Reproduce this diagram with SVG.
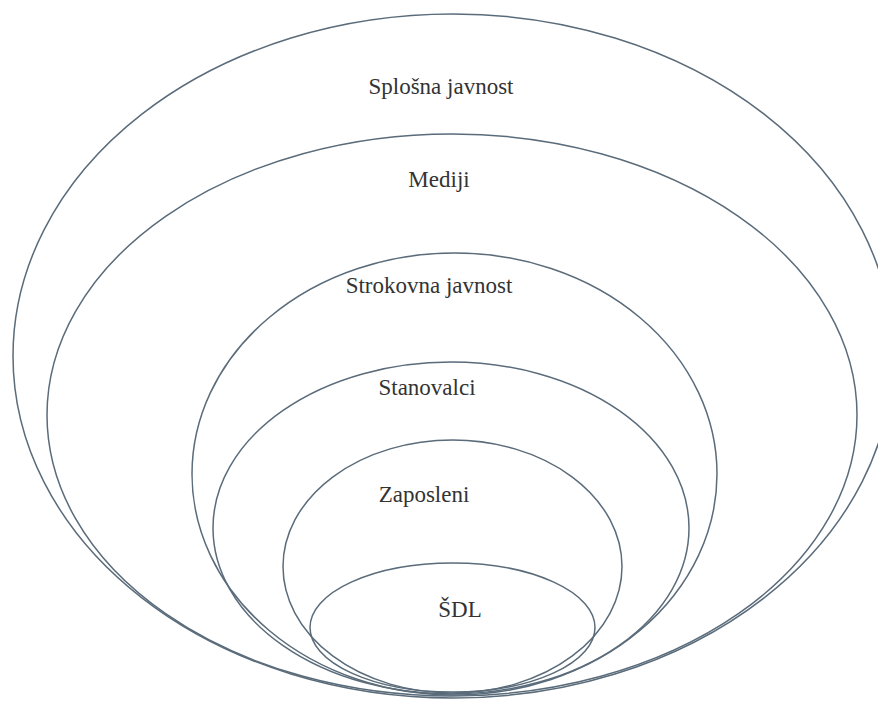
<svg xmlns="http://www.w3.org/2000/svg" width="878" height="708" viewBox="0 0 878 708">
<style>
.r{fill:none;stroke:#5a6b7a;stroke-width:1.5}
.t{font-family:"Liberation Serif","Times New Roman",serif;font-size:23px;fill:#333333;text-anchor:middle}
</style>
<rect width="878" height="708" fill="#ffffff"/>
<g id="splosna"><ellipse class="r" cx="453" cy="356" rx="440" ry="342"/><text class="t" x="441" y="94">Splošna javnost</text></g>
<g id="mediji"><ellipse class="r" cx="452" cy="415" rx="405" ry="281"/><text class="t" x="439" y="187">Mediji</text></g>
<g id="strokovna"><ellipse class="r" cx="454.5" cy="474" rx="262.5" ry="221"/><text class="t" x="429" y="293">Strokovna javnost</text></g>
<g id="stanovalci"><ellipse class="r" cx="451" cy="528" rx="238" ry="166"/><text class="t" x="427" y="395">Stanovalci</text></g>
<g id="zaposleni"><ellipse class="r" cx="452.5" cy="566.5" rx="169.5" ry="126.5"/><text class="t" x="424" y="502">Zaposleni</text></g>
<g id="sdl"><ellipse class="r" cx="452.5" cy="627.5" rx="142.5" ry="64.5"/><text class="t" x="460" y="617">ŠDL</text></g>
<g id="connectors"></g>
</svg>
